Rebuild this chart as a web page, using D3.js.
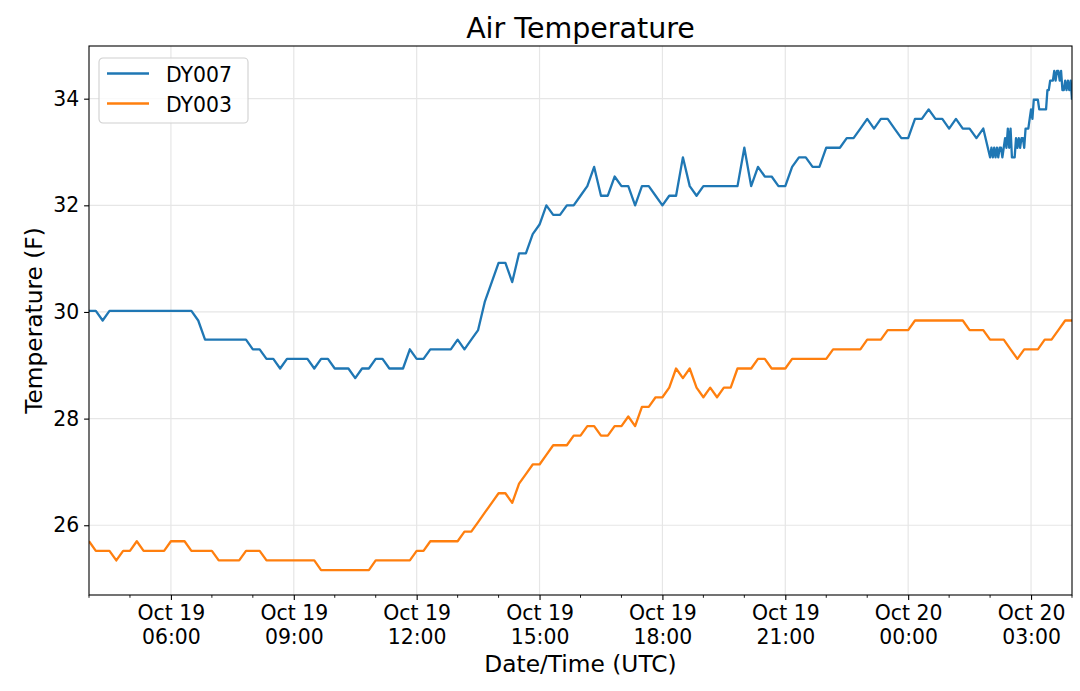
<!DOCTYPE html>
<html>
<head>
<meta charset="utf-8">
<script src="https://cdn.jsdelivr.net/npm/d3@7"></script>
<style>
  body { margin: 0; background: #fff; }
  svg { display: block; font-family: "DejaVu Sans", sans-serif; }
</style>
</head>
<body>
<svg id="chart"></svg>
<script>
// DY007 readings every 10 minutes, 04:00 UTC Oct 19 -> 01:50 UTC Oct 20
var dy007Temps = [
    30.02, 30.02, 29.84, 30.02, 30.02, 30.02, 30.02, 30.02, 30.02, 30.02,
    30.02, 30.02, 30.02, 30.02, 30.02, 30.02, 29.84, 29.48, 29.48, 29.48,
    29.48, 29.48, 29.48, 29.48, 29.30, 29.30, 29.12, 29.12, 28.94, 29.12,
    29.12, 29.12, 29.12, 28.94, 29.12, 29.12, 28.94, 28.94, 28.94, 28.76,
    28.94, 28.94, 29.12, 29.12, 28.94, 28.94, 28.94, 29.30, 29.12, 29.12,
    29.30, 29.30, 29.30, 29.30, 29.48, 29.30, 29.48, 29.66, 30.20, 30.56,
    30.92, 30.92, 30.56, 31.10, 31.10, 31.46, 31.64, 32.00, 31.82, 31.82,
    32.00, 32.00, 32.18, 32.36, 32.72, 32.18, 32.18, 32.54, 32.36, 32.36,
    32.00, 32.36, 32.36, 32.18, 32.00, 32.18, 32.18, 32.90, 32.36, 32.18,
    32.36, 32.36, 32.36, 32.36, 32.36, 32.36, 33.08, 32.36, 32.72, 32.54,
    32.54, 32.36, 32.36, 32.72, 32.90, 32.90, 32.72, 32.72, 33.08, 33.08,
    33.08, 33.26, 33.26, 33.44, 33.62, 33.44, 33.62, 33.62, 33.44, 33.26,
    33.26, 33.62, 33.62, 33.80, 33.62, 33.62, 33.44, 33.62, 33.44, 33.44,
    33.26, 33.44
];

// DY007 reports every 2 minutes from 02:00 UTC Oct 20 to 04:00
var dy007FastTemps = [
    32.90, 33.08, 32.90, 33.08, 32.90, 33.08, 32.90, 33.08, 33.08, 32.90,
    33.08, 33.26, 33.08, 33.44, 33.08, 33.44, 32.90, 32.90, 32.90, 33.26,
    33.08, 33.26, 33.08, 33.26, 33.26, 33.08, 33.44, 33.44, 33.44, 33.62,
    33.80, 33.62, 33.98, 33.98, 33.98, 33.98, 33.80, 33.80, 33.80, 33.80,
    33.80, 33.80, 34.16, 34.16, 34.34, 34.34, 34.34, 34.52, 34.34, 34.52,
    34.52, 34.34, 34.52, 34.16, 34.16, 34.34, 34.16, 34.34, 34.16, 34.34,
    33.98
];

// DY003 readings every 10 minutes, 04:00 UTC Oct 19 -> 04:00 UTC Oct 20
var dy003Temps = [
    25.70, 25.52, 25.52, 25.52, 25.34, 25.52, 25.52, 25.70, 25.52, 25.52,
    25.52, 25.52, 25.70, 25.70, 25.70, 25.52, 25.52, 25.52, 25.52, 25.34,
    25.34, 25.34, 25.34, 25.52, 25.52, 25.52, 25.34, 25.34, 25.34, 25.34,
    25.34, 25.34, 25.34, 25.34, 25.16, 25.16, 25.16, 25.16, 25.16, 25.16,
    25.16, 25.16, 25.34, 25.34, 25.34, 25.34, 25.34, 25.34, 25.52, 25.52,
    25.70, 25.70, 25.70, 25.70, 25.70, 25.88, 25.88, 26.06, 26.24, 26.42,
    26.60, 26.60, 26.42, 26.78, 26.96, 27.14, 27.14, 27.32, 27.50, 27.50,
    27.50, 27.68, 27.68, 27.86, 27.86, 27.68, 27.68, 27.86, 27.86, 28.04,
    27.86, 28.22, 28.22, 28.40, 28.40, 28.58, 28.94, 28.76, 28.94, 28.58,
    28.40, 28.58, 28.40, 28.58, 28.58, 28.94, 28.94, 28.94, 29.12, 29.12,
    28.94, 28.94, 28.94, 29.12, 29.12, 29.12, 29.12, 29.12, 29.12, 29.30,
    29.30, 29.30, 29.30, 29.30, 29.48, 29.48, 29.48, 29.66, 29.66, 29.66,
    29.66, 29.84, 29.84, 29.84, 29.84, 29.84, 29.84, 29.84, 29.84, 29.66,
    29.66, 29.66, 29.48, 29.48, 29.48, 29.30, 29.12, 29.30, 29.30, 29.30,
    29.48, 29.48, 29.66, 29.84, 29.84
];

var seriesNames = ["DY007", "DY003"];
var seriesColors = ["#1f77b4", "#ff7f0e"];
var yTicks = [26, 28, 30, 32, 34];

var startTime = Date.UTC(2019, 9, 19, 4, 0);
var fastStart = Date.UTC(2019, 9, 20, 2, 0);

// attach timestamps to the readings
var dy007 = dy007Temps.map(function(v, i) {
        return { time: new Date(startTime + i * 600000), temp: v };
    }).concat(dy007FastTemps.map(function(v, i) {
        return { time: new Date(fastStart + i * 120000), temp: v };
    }));
var dy003 = dy003Temps.map(function(v, i) {
    return { time: new Date(startTime + i * 600000), temp: v };
});
var series = [dy007, dy003];

var margin = { top: 46, right: 8, bottom: 96, left: 89 },
    width = 1080 - margin.left - margin.right,
    height = 691 - margin.top - margin.bottom;

var tickFont = "20.4px",
    labelFont = "23.3px";

var svgRoot = d3.select("#chart")
    .attr("width", width + margin.left + margin.right)
    .attr("height", height + margin.top + margin.bottom);

var svg = svgRoot.append("g")
    .attr("transform", "translate(" + margin.left + "," + margin.top + ")");

var allPoints = dy007.concat(dy003);

var x = d3.scaleUtc()
    .domain(d3.extent(allPoints, function(d) { return d.time; }))
    .range([0, width]);

// matplotlib style 5% padding on the value axis
var yExt = d3.extent(allPoints, function(d) { return d.temp; });
var yPad = (yExt[1] - yExt[0]) * 0.05;
var y = d3.scaleLinear()
    .domain([yExt[0] - yPad, yExt[1] + yPad])
    .range([height, 0]);

var majorTimes = d3.utcHour.every(3).range(x.domain()[0], x.domain()[1]);
var minorTimes = d3.utcHour.range(x.domain()[0], new Date(+x.domain()[1] + 1))
    .filter(function(d) { return d.getUTCHours() % 3 !== 0; });

// grid
svg.append("g")
    .selectAll("line.vgrid")
    .data(majorTimes)
    .enter().append("line")
    .attr("x1", function(d) { return x(d); })
    .attr("x2", function(d) { return x(d); })
    .attr("y1", 0)
    .attr("y2", height)
    .style("stroke", "#e6e6e6")
    .style("stroke-width", 1.2);

svg.append("g")
    .selectAll("line.hgrid")
    .data(yTicks)
    .enter().append("line")
    .attr("x1", 0)
    .attr("x2", width)
    .attr("y1", function(d) { return y(d); })
    .attr("y2", function(d) { return y(d); })
    .style("stroke", "#e6e6e6")
    .style("stroke-width", 1.2);

// lines
svg.append("clipPath")
    .attr("id", "plot-clip")
    .append("rect")
    .attr("width", width)
    .attr("height", height);

var line = d3.line()
    .x(function(d) { return x(d.time); })
    .y(function(d) { return y(d.temp); });

svg.append("g")
    .attr("clip-path", "url(#plot-clip)")
    .selectAll("path")
    .data(series)
    .enter().append("path")
    .attr("d", line)
    .style("fill", "none")
    .style("stroke", function(d, i) { return seriesColors[i]; })
    .style("stroke-width", 2.3)
    .style("stroke-linejoin", "round");

// axes
var yAxis = svg.append("g")
    .call(d3.axisLeft(y)
        .tickValues(yTicks)
        .tickSize(4.9)
        .tickPadding(5)
        .tickFormat(d3.format("d")));
yAxis.select(".domain").remove();
yAxis.selectAll("line").style("stroke", "#000").style("stroke-width", 1.1);
yAxis.selectAll("text")
    .style("font-size", tickFont)
    .style("fill", "#000")
    .style("font-family", "DejaVu Sans");

var xAxis = svg.append("g")
    .attr("transform", "translate(0," + height + ")")
    .call(d3.axisBottom(x)
        .tickValues(majorTimes)
        .tickSize(4.9)
        .tickPadding(5));
xAxis.select(".domain").remove();
xAxis.selectAll("line").style("stroke", "#000").style("stroke-width", 1.1);

var fmtDay = d3.utcFormat("%b %-d"),
    fmtHour = d3.utcFormat("%H:%M");
xAxis.selectAll(".tick text").each(function(d) {
    var t = d3.select(this);
    t.text(null).attr("dy", null).attr("y", null)
        .style("font-size", tickFont)
        .style("fill", "#000")
        .style("font-family", "DejaVu Sans");
    t.append("tspan").attr("x", 0).attr("y", 25).text(fmtDay(d));
    t.append("tspan").attr("x", 0).attr("y", 49).text(fmtHour(d));
});

svg.append("g")
    .selectAll("line")
    .data(minorTimes)
    .enter().append("line")
    .attr("x1", function(d) { return x(d); })
    .attr("x2", function(d) { return x(d); })
    .attr("y1", height)
    .attr("y2", height + 2.8)
    .style("stroke", "#000")
    .style("stroke-width", 0.9);

// frame
svg.append("rect")
    .attr("width", width)
    .attr("height", height)
    .style("fill", "none")
    .style("stroke", "#000")
    .style("stroke-width", 1.1);

// titles
svgRoot.append("text")
    .attr("x", margin.left + width / 2)
    .attr("y", 38)
    .style("text-anchor", "middle")
    .style("font-size", "28.5px")
    .text("Air Temperature");

svgRoot.append("text")
    .attr("x", margin.left + width / 2)
    .attr("y", 672)
    .style("text-anchor", "middle")
    .style("font-size", labelFont)
    .text("Date/Time (UTC)");

svgRoot.append("text")
    .attr("transform", "translate(42," + (margin.top + height / 2) + ") rotate(-90)")
    .style("text-anchor", "middle")
    .style("font-size", labelFont)
    .text("Temperature (F)");

// legend
var legend = svgRoot.append("g")
    .attr("transform", "translate(99,58)");

legend.append("rect")
    .attr("width", 149)
    .attr("height", 65)
    .attr("rx", 4)
    .style("fill", "#fff")
    .style("fill-opacity", 0.8)
    .style("stroke", "#d0d0d0")
    .style("stroke-width", 1.1);

var legendItem = legend.selectAll(".legend-item")
    .data(seriesNames)
    .enter().append("g")
    .attr("class", "legend-item")
    .attr("transform", function(d, i) { return "translate(0," + (15.5 + i * 30) + ")"; });

legendItem.append("line")
    .attr("x1", 8)
    .attr("x2", 50)
    .style("stroke", function(d, i) { return seriesColors[i]; })
    .style("stroke-width", 2.3);

legendItem.append("text")
    .attr("x", 67)
    .attr("y", 8)
    .style("font-size", tickFont)
    .text(function(d) { return d; });
</script>
</body>
</html>
